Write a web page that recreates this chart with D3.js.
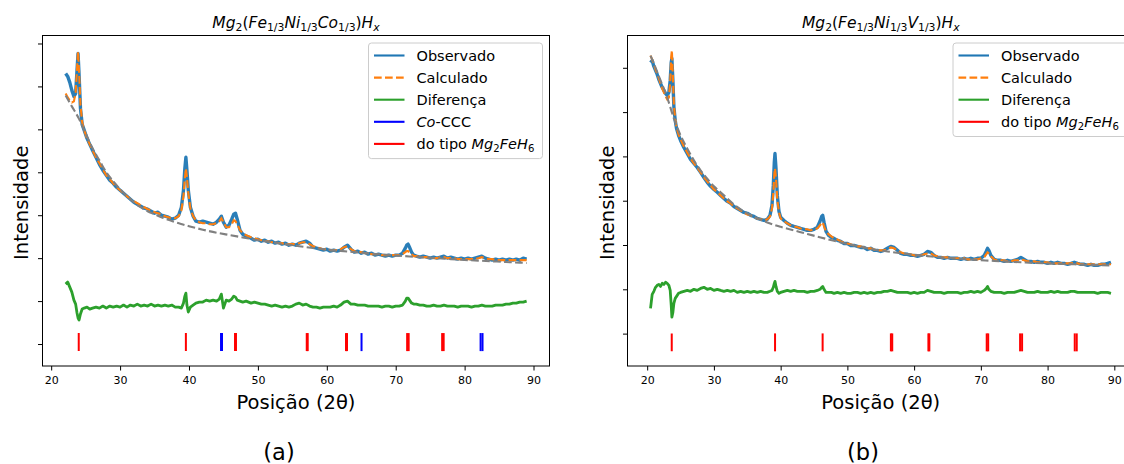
<!DOCTYPE html>
<html>
<head>
<meta charset="utf-8">
<script src="https://cdn.jsdelivr.net/npm/d3@7"></script>
<style>
  html, body { margin: 0; padding: 0; background: #ffffff; }
  svg { display: block; font-family: "DejaVu Sans", sans-serif; }
  text { white-space: pre; }
</style>
</head>
<body>
<svg id="fig" width="1124" height="464"></svg>
<script>
// ---------- shared ----------
const xTicks = [20, 30, 40, 50, 60, 70, 80, 90];
const legendLabelsA = ["Observado", "Calculado", "Diferença", "$Co$-CCC", "do tipo $Mg_2FeH_6$"];
const legendLabelsB = ["Observado", "Calculado", "Diferença", "do tipo $Mg_2FeH_6$"];
const titleA = "$Mg_2(Fe_{1/3}Ni_{1/3}Co_{1/3})H_x$";
const titleB = "$Mg_2(Fe_{1/3}Ni_{1/3}V_{1/3})H_x$";
const xLabel = "Posição (2θ)";
const yLabel = "Intensidade";

// ---------- sample (a): Mg2(Fe1/3Ni1/3Co1/3)Hx ----------
const yTicksA = [0, 1000, 2000, 3000, 4000, 5000, 6000, 7000];
const thetaA = [22.1,22.4,22.7,23.0,23.3,23.55,23.75,23.9,24.05,24.25,
  24.5,24.8,25.2,25.6,26.0,
  26.5,27.0,27.5,28.0,28.5,29.0,29.5,30.0,30.5,31.0,31.5,32.0,32.5,33.0,33.5,34.0,34.5,35.0,35.5,36.0,36.5,37.0,37.5,38.0,38.5,
  38.9,39.2,39.4,39.55,39.7,39.9,40.2,40.6,
  41.0,41.5,42.0,42.5,43.0,43.5,44.0,
  44.4,44.7,45.0,45.4,45.8,46.2,46.5,46.75,47.0,47.4,47.8,48.3,
  49.0,49.5,
  50.0,50.5,51.0,51.5,52.0,52.5,53.0,53.5,54.0,54.5,55.0,55.5,56.0,56.5,57.0,57.5,58.0,58.5,59.0,59.5,60.0,60.5,61.0,61.5,62.0,62.5,63.0,63.5,64.0,64.5,65.0,65.5,66.0,66.5,67.0,67.5,68.0,68.5,69.0,69.5,70.0,70.5,71.0,
  71.4,71.6,71.8,72.0,72.3,72.6,
  73.0,73.5,74.0,74.5,75.0,75.5,76.0,76.5,77.0,77.5,78.0,78.5,79.0,79.5,80.0,80.5,81.0,81.5,82.0,82.5,83.0,83.5,84.0,84.5,85.0,85.5,86.0,86.5,87.0,87.5,88.0,88.5,89.0];
const obsA = [6302,6233,6093,5907,5767,5837,6372,6767,6256,5488,
  5116,4977,4791,4651,4512,
  4349,4186,4047,3930,3814,3744,3651,3581,3512,3442,3372,3302,3256,3209,3163,3140,3093,3047,3070,3000,2977,2953,2907,2930,3000,
  3186,3581,4093,4349,4047,3581,3186,2977,
  2860,2837,2860,2837,2814,2791,2837,
  2907,2977,2837,2721,2767,2907,3023,3047,2907,2651,2558,2512,
  2465,2419,
  2442,2395,2419,2372,2395,2349,2372,2326,2349,2302,2326,2302,2349,2372,2395,2349,2256,2233,2209,2186,2209,2163,2186,2163,2186,2256,2302,2209,2140,2163,2116,2140,2093,2116,2070,2093,2070,2047,2070,2047,2070,2070,2116,
  2233,2302,2326,2256,2140,2070,
  2047,2023,2047,2023,2000,2023,2000,2023,2047,2000,2023,2000,1977,2000,1977,2000,1977,2000,2023,2047,2000,1977,1953,1977,1953,1977,1953,1977,1953,1977,1953,2000,1977];
const calcA = [5837,5744,5674,5628,5651,5860,6419,6814,6326,5558,
  5163,4977,4791,4651,4512,
  4349,4209,4070,3930,3837,3744,3651,3581,3512,3442,3372,3326,3279,3233,3186,3140,3116,3070,3047,3023,2977,2953,2930,2930,2977,
  3116,3442,3860,4093,3884,3512,3163,2977,
  2884,2837,2814,2814,2791,2791,2814,
  2860,2930,2837,2721,2721,2791,2884,2860,2791,2651,2581,2535,
  2488,2465,
  2442,2419,2395,2395,2372,2372,2349,2349,2326,2326,2326,2326,2349,2372,2372,2326,2279,2256,2233,2209,2209,2186,2186,2186,2209,2256,2279,2209,2163,2140,2140,2116,2116,2093,2093,2093,2070,2070,2070,2070,2070,2070,2093,
  2140,2163,2163,2140,2093,2047,
  2047,2023,2023,2023,2000,2000,2000,2023,2023,2000,2000,2000,1977,1977,1977,1977,1977,1977,2000,2023,2000,1977,1977,1953,1953,1953,1953,1953,1953,1953,1953,1953,1953];
const diffA = [1395,1442,1326,1209,1023,930,721,605,558,698,
  814,837,860,814,837,
  860,837,884,837,884,860,884,860,907,860,907,884,930,884,907,884,930,884,907,884,907,884,907,860,860,
  837,953,1116,1186,907,744,860,907,
  953,977,977,1023,1000,1023,1000,
  1047,1163,837,1023,1000,1047,1116,1093,1023,1000,977,1000,
  953,977,
  953,930,930,907,884,907,884,860,884,860,884,930,953,907,930,884,860,860,837,860,860,860,884,860,907,977,1000,930,930,907,907,907,884,884,884,884,860,884,884,860,884,884,907,
  1000,1070,1070,1023,953,930,
  930,907,907,884,884,907,884,884,907,884,884,884,860,884,884,884,860,884,884,907,884,884,884,907,907,907,930,930,953,953,977,977,1000];
const bgThetaA = [22.1,23,24,25,26,27,28,29,30,31,32,33,34,35,36,37,38,39,40,42,44,46,48,50,52,54,56,58,60,62,64,66,68,70,72,74,76,78,80,82,84,86,88,89];
const bgA = [5791,5535,5256,4907,4558,4279,4000,3791,3605,3442,3302,3186,3093,3023,2953,2895,2837,2791,2744,2663,2593,2535,2477,2419,2372,2326,2279,2237,2202,2170,2140,2112,2086,2063,2040,2019,2000,1977,1958,1942,1926,1909,1895,1888];
const reflRedA = [24.0, 39.55, 46.68, 46.82, 57.09, 57.23, 62.79, 62.93, 71.66, 71.88, 76.74, 76.96];
const reflBlueA = [44.65, 44.79, 65.04, 82.32, 82.6];
const reflSpanA = [-165, 255];

// ---------- sample (b): Mg2(Fe1/3Ni1/3V1/3)Hx ----------
const yTicksB = [0, 1000, 2000, 3000, 4000, 5000, 6000];
const thetaB = [20.5,20.75,21.0,21.25,21.5,21.75,22.0,22.25,22.5,22.75,23.0,23.25,23.45,23.6,23.7,23.85,24.0,24.2,24.4,24.7,25.0,
  25.5,26.0,26.5,27.0,27.5,28.0,28.5,29.0,29.5,30.0,30.5,31.0,31.5,32.0,32.5,33.0,33.5,34.0,34.5,35.0,35.5,36.0,36.5,37.0,37.5,38.0,
  38.4,38.7,38.9,39.05,39.15,39.3,39.5,39.75,40.0,
  40.5,41.0,41.5,42.0,42.5,43.0,43.5,44.0,44.5,45.0,45.5,
  45.9,46.15,46.3,46.5,46.8,47.2,47.6,48.0,
  48.5,49.0,49.5,50.0,50.5,51.0,51.5,52.0,52.5,53.0,53.5,54.0,54.5,55.0,55.5,56.0,56.5,57.0,57.5,58.0,58.5,59.0,59.5,60.0,60.5,61.0,61.5,62.0,62.5,63.0,63.5,64.0,64.5,65.0,65.5,66.0,66.5,67.0,67.5,68.0,68.5,69.0,69.5,70.0,
  70.5,70.8,71.0,71.2,71.5,72.0,
  72.5,73.0,73.5,74.0,74.5,75.0,75.5,76.0,76.5,77.0,77.5,78.0,78.5,79.0,79.5,80.0,80.5,81.0,81.5,82.0,82.5,83.0,83.5,84.0,84.5,85.0,85.5,86.0,86.5,87.0,87.5,88.0,88.5,89.0,89.5];
const obsB = [6120,6165,6030,5940,5850,5735,5645,5555,5490,5420,5375,5445,5715,6120,6210,5715,5125,4810,4630,4475,4360,
  4200,4065,3930,3840,3750,3640,3525,3415,3325,3255,3190,3120,3050,2985,2940,2870,2825,2780,2735,2715,2670,2645,2600,2580,2555,2580,
  2670,2895,3345,3865,4065,3730,3120,2760,2625,
  2555,2490,2445,2420,2400,2375,2355,2330,2330,2355,2400,
  2535,2645,2670,2510,2310,2215,2170,2150,
  2105,2080,2035,2035,1990,1990,1970,1945,1945,1900,1925,1880,1880,1855,1880,1925,1970,1945,1880,1810,1790,1790,1765,1765,1745,1765,1790,1855,1835,1765,1720,1720,1700,1720,1700,1700,1700,1675,1700,1675,1700,1675,1700,1700,
  1765,1855,1925,1880,1765,1675,
  1655,1655,1630,1655,1630,1655,1675,1720,1675,1630,1630,1610,1630,1610,1610,1585,1610,1585,1610,1585,1585,1565,1585,1610,1585,1565,1565,1540,1565,1540,1540,1565,1565,1585,1610];
const calcB = [6275,6185,6075,5960,5870,5760,5645,5535,5445,5355,5285,5330,5670,6255,6390,5805,5170,4835,4655,4495,4385,
  4225,4090,3955,3840,3750,3640,3525,3435,3345,3255,3190,3120,3050,2985,2940,2870,2825,2780,2735,2690,2670,2625,2600,2580,2555,2580,
  2645,2825,3165,3595,3730,3505,3030,2735,2600,
  2535,2490,2445,2420,2400,2375,2355,2355,2330,2355,2375,
  2445,2510,2510,2420,2310,2240,2195,2150,
  2125,2080,2060,2035,2015,1990,1970,1970,1945,1925,1925,1900,1880,1880,1880,1900,1945,1925,1880,1835,1810,1790,1790,1765,1765,1765,1790,1810,1810,1765,1745,1720,1720,1720,1700,1700,1700,1700,1700,1675,1675,1675,1675,1700,
  1720,1790,1835,1810,1745,1675,
  1655,1655,1655,1630,1630,1655,1655,1675,1655,1630,1630,1630,1610,1610,1610,1610,1585,1585,1585,1585,1585,1585,1585,1600,1585,1565,1565,1565,1565,1565,1565,1565,1565,1565,1565];
const diffB = [570,885,955,1045,1090,1110,1065,1135,1110,1160,1135,1090,975,640,370,480,685,795,840,910,930,
  955,975,955,1000,975,1020,1045,1000,1020,975,1000,975,955,975,955,975,930,955,930,955,930,955,930,955,930,930,
  955,975,1045,1135,1180,1065,955,910,930,
  955,975,955,975,955,955,955,930,955,955,975,
  1000,1045,1065,1000,930,930,930,910,
  930,910,930,910,910,930,930,910,930,910,930,910,930,930,955,955,975,955,930,930,930,930,910,930,910,930,930,975,955,930,930,930,910,930,930,930,930,910,930,930,955,930,955,930,
  975,1020,1065,1000,955,930,
  930,930,910,930,930,930,955,975,955,930,930,930,955,930,930,930,955,930,955,930,930,930,955,955,930,930,930,930,930,930,910,930,930,930,910];
const bgThetaB = [20.5,21,22,23,24,25,26,27,28,29,30,31,32,33,34,35,36,37,38,39,40,42,44,46,48,50,52,54,56,58,60,62,64,66,68,70,72,74,76,78,80,82,84,86,88,89.5];
const bgB = [6275,6095,5715,5330,4855,4475,4180,3910,3685,3495,3325,3190,3050,2915,2805,2715,2635,2570,2510,2455,2410,2330,2250,2170,2095,2025,1960,1900,1855,1815,1780,1750,1720,1700,1675,1658,1640,1625,1610,1595,1585,1575,1565,1555,1545,1540];
const reflRedB = [23.68, 39.16, 46.29, 56.52, 56.72, 62.14, 62.28, 70.88, 71.1, 75.88, 76.18, 84.07, 84.37];
const reflSpanB = [-400, 5];

// ---------- styling ----------
const COLORS = { obs: "#1f77b4", calc: "#ff7f0e", diff: "#2ca02c", bg: "#808080", red: "#ff0000", blue: "#0000ff" };
const LW = 2.1;
const DASH = "7.7,3.3";

const svg = d3.select("#fig");

// Minimal mathtext: text between $...$ is set with italic letters, upright digits/punctuation,
// and "_x" / "_{...}" become subscripts.
function parseLabel(str) {
  const segs = [];
  let math = false, i = 0;
  const push = (t, it, sub) => {
    const last = segs[segs.length - 1];
    if (last && last.it === it && last.sub === sub) last.t += t;
    else segs.push({ t, it, sub });
  };
  while (i < str.length) {
    const ch = str[i];
    if (ch === "$") { math = !math; i++; continue; }
    if (math && ch === "_") {
      let grp;
      if (str[i + 1] === "{") { const j = str.indexOf("}", i + 2); grp = str.slice(i + 2, j); i = j + 1; }
      else { grp = str[i + 1]; i += 2; }
      for (const c of grp) push(c, /[A-Za-z]/.test(c), true);
      continue;
    }
    push(ch, math && /[A-Za-z]/.test(ch), false);
    i++;
  }
  return segs;
}
function writeLabel(textSel, str, size) {
  const shift = size * 0.22;
  let off = 0;
  parseLabel(str).forEach(s => {
    const target = s.sub ? shift : 0;
    textSel.append("tspan")
      .attr("dy", target - off)
      .attr("font-size", s.sub ? size * 0.7 : size)
      .attr("font-style", s.it ? "italic" : "normal")
      .text(s.t);
    off = target;
  });
}

function drawPanel(cfg) {
  const g = svg.append("g");
  const x = d3.scaleLinear().domain(cfg.xDomain).range([cfg.left, cfg.right]);
  const y = d3.scaleLinear().domain(cfg.yDomain).range([cfg.bottom, cfg.top]);

  const clipId = "clip-" + cfg.id;
  svg.append("clipPath").attr("id", clipId)
    .append("rect").attr("x", cfg.left).attr("y", cfg.top)
    .attr("width", cfg.right - cfg.left).attr("height", cfg.bottom - cfg.top);
  const plot = g.append("g").attr("clip-path", `url(#${clipId})`);

  const path = (xs, ys, curve) => d3.line()
    .x((d, i) => x(xs[i])).y(d => y(d))
    .curve(curve || d3.curveLinear)(ys);

  // observed pattern: noisy counts, drawn as a heavier trace
  plot.append("path").attr("d", path(cfg.theta, cfg.obs))
    .attr("fill", "none").attr("stroke", COLORS.obs).attr("stroke-width", 3.4)
    .attr("stroke-linejoin", "round").attr("stroke-opacity", 0.95);
  plot.append("path").attr("d", path(cfg.theta, cfg.calc))
    .attr("fill", "none").attr("stroke", COLORS.calc).attr("stroke-width", LW).attr("stroke-dasharray", DASH);
  plot.append("path").attr("d", path(cfg.theta, cfg.diff))
    .attr("fill", "none").attr("stroke", COLORS.diff).attr("stroke-width", 2.8).attr("stroke-linejoin", "round");
  plot.append("path").attr("d", path(cfg.bgTheta, cfg.bg, d3.curveMonotoneX))
    .attr("fill", "none").attr("stroke", COLORS.bg).attr("stroke-width", LW).attr("stroke-dasharray", DASH);

  // reflection positions
  cfg.refl.forEach(set => {
    plot.selectAll(null).data(set.pos).join("line")
      .attr("x1", d => x(d)).attr("x2", d => x(d))
      .attr("y1", y(cfg.reflSpan[0])).attr("y2", y(cfg.reflSpan[1]))
      .attr("stroke", set.color).attr("stroke-width", 2);
  });

  // axes
  const xAxis = g.append("g").attr("transform", `translate(0,${cfg.bottom})`)
    .call(d3.axisBottom(x).tickValues(xTicks).tickSize(4.5).tickPadding(6).tickFormat(d3.format("d")));
  const yAxis = g.append("g").attr("transform", `translate(${cfg.left},0)`)
    .call(d3.axisLeft(y).tickValues(cfg.yTicks).tickSize(4.5).tickFormat(""));
  [xAxis, yAxis].forEach(a => {
    a.select(".domain").remove();
    a.selectAll(".tick line").attr("stroke", "#000").attr("stroke-width", 1);
    a.selectAll(".tick text").attr("font-family", "DejaVu Sans").attr("font-size", 11).attr("fill", "#000");
  });

  // frame
  g.append("rect").attr("x", cfg.left).attr("y", cfg.top)
    .attr("width", cfg.right - cfg.left).attr("height", cfg.bottom - cfg.top)
    .attr("fill", "none").attr("stroke", "#000").attr("stroke-width", 1);

  // title
  const t = g.append("text").attr("x", (cfg.left + cfg.right) / 2).attr("y", 28)
    .attr("text-anchor", "middle").attr("fill", "#000");
  writeLabel(t, cfg.title, 15.5);

  // axis labels
  g.append("text").attr("x", (cfg.left + cfg.right) / 2).attr("y", 409)
    .attr("text-anchor", "middle").attr("font-size", 19.5).attr("fill", "#000").text(xLabel);
  g.append("text").attr("transform", `translate(${cfg.yLabelX},${(cfg.top + cfg.bottom) / 2 + 2}) rotate(-90)`)
    .attr("text-anchor", "middle").attr("font-size", 19.5).attr("fill", "#000").text(yLabel);

  // panel tag
  g.append("text").attr("x", cfg.tagX).attr("y", 460).attr("text-anchor", "middle")
    .attr("font-size", 22.5).attr("fill", "#000").text(cfg.tag);

  // legend
  const rowH = 22.1, fs = 14.5;
  const lg = g.append("g");
  const boxW = 174, boxH = 11.6 + rowH * cfg.legend.length - 6.5;
  const bx = cfg.right - 7 - boxW, by = cfg.top + 7.5;
  lg.append("rect").attr("x", bx).attr("y", by).attr("width", boxW).attr("height", boxH)
    .attr("rx", 3).attr("fill", "#ffffff").attr("fill-opacity", 0.8)
    .attr("stroke", "#cccccc").attr("stroke-width", 1);
  cfg.legend.forEach((lab, i) => {
    const cy = by + 12.5 + rowH * i;
    const st = cfg.legendStyles[i];
    lg.append("line").attr("x1", bx + 5.5).attr("x2", bx + 36).attr("y1", cy).attr("y2", cy)
      .attr("stroke", st.color).attr("stroke-width", LW)
      .attr("stroke-dasharray", st.dash ? DASH : null);
    const tx = lg.append("text").attr("x", bx + 48).attr("y", cy + 5.4).attr("fill", "#000");
    writeLabel(tx, lab, fs);
  });
}

const baseStyles = [
  { color: COLORS.obs }, { color: COLORS.calc, dash: true }, { color: COLORS.diff }
];

drawPanel({
  id: "a", left: 42.5, right: 549.5, top: 35.5, bottom: 366,
  xDomain: [18.74, 92.32], yDomain: [-512, 7186], yTicks: yTicksA,
  theta: thetaA, obs: obsA, calc: calcA, diff: diffA, bgTheta: bgThetaA, bg: bgA,
  refl: [{ pos: reflRedA, color: COLORS.red }, { pos: reflBlueA, color: COLORS.blue }],
  reflSpan: reflSpanA,
  title: titleA, tag: "(a)", tagX: 279, yLabelX: 28,
  legend: legendLabelsA,
  legendStyles: baseStyles.concat([{ color: COLORS.blue }, { color: COLORS.red }])
});

drawPanel({
  id: "b", left: 627.5, right: 1134, top: 35.5, bottom: 366,
  xDomain: [17.05, 92.95], yDomain: [-731, 6729], yTicks: yTicksB,
  theta: thetaB, obs: obsB, calc: calcB, diff: diffB, bgTheta: bgThetaB, bg: bgB,
  refl: [{ pos: reflRedB, color: COLORS.red }],
  reflSpan: reflSpanB,
  title: titleB, tag: "(b)", tagX: 863, yLabelX: 614,
  legend: legendLabelsB,
  legendStyles: baseStyles.concat([{ color: COLORS.red }])
});
</script>
</body>
</html>
